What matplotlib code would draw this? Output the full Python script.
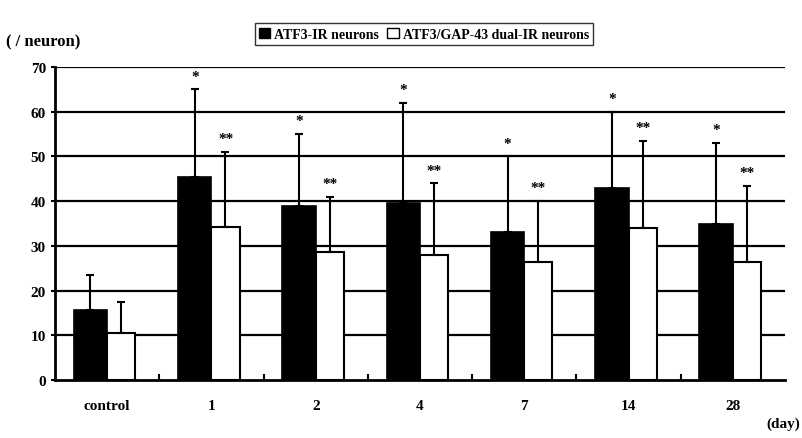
import matplotlib.pyplot as plt
import numpy as np
from matplotlib.patches import Patch

plt.rcParams['font.family'] = ['Liberation Serif', 'DejaVu Serif']
plt.rcParams['font.weight'] = 'bold'

days = ["control", "1", "2", "4", "7", "14", "28"]
atf3 = [15.7, 45.5, 39.0, 39.5, 33.0, 43.0, 35.0]
atf3_top = [23.5, 65.0, 55.0, 62.0, 50.0, 60.0, 53.0]
dual = [10.5, 34.3, 28.7, 28.0, 26.5, 34.0, 26.5]
dual_top = [17.5, 51.0, 41.0, 44.0, 40.0, 53.5, 43.5]

x = np.arange(len(days))
fig = plt.figure(figsize=(8.03, 4.39), dpi=100)
ax = fig.add_axes([0.0685, 0.132, 0.909, 0.713])

ax.set_ylim(0, 70)
ax.set_xlim(-0.5, len(days) - 0.5)
for yv in range(10, 71, 10):
    ax.axhline(yv, color='black', lw=1.6, zorder=1)

wb = 0.32
ww = 0.27
xb = x - wb / 2
xw = x + ww / 2
atf3_err = np.array(atf3_top) - np.array(atf3)
dual_err = np.array(dual_top) - np.array(dual)
ax.bar(xb, atf3, wb, color='black', edgecolor='black', lw=1.2, zorder=3,
       yerr=[np.zeros(len(x)), atf3_err], capsize=3,
       error_kw=dict(ecolor='black', elinewidth=1.5, capthick=1.5, zorder=4))
ax.bar(xw, dual, ww, color='white', edgecolor='black', lw=1.5, zorder=3,
       yerr=[np.zeros(len(x)), dual_err], capsize=3,
       error_kw=dict(ecolor='black', elinewidth=1.5, capthick=1.5, zorder=4))

for i in range(1, len(days)):
    ax.text(xb[i], atf3_top[i] + 1.5, "*", ha='center', va='bottom', fontsize=11)
    ax.text(xw[i], dual_top[i] + 1.5, "**", ha='center', va='bottom', fontsize=11)

for s in ['top', 'right']:
    ax.spines[s].set_visible(False)
ax.spines['left'].set_linewidth(2)
ax.spines['bottom'].set_linewidth(2)

ax.set_yticks(range(0, 71, 10))
ax.set_yticklabels([str(v) for v in range(0, 71, 10)], fontsize=11, fontweight='bold')
ax.tick_params(axis='y', length=3, width=1.5)
ax.set_xticks(x)
ax.set_xticklabels(days, fontsize=11, fontweight='bold')
ax.tick_params(axis='x', which='major', length=0, pad=14)
ax.set_xticks(x[:-1] + 0.5, minor=True)
ax.tick_params(axis='x', which='minor', direction='in', length=4, width=1.5)

fig.text(0.008, 0.895, "( / neuron)", fontsize=12, fontweight='bold')
fig.text(0.955, 0.025, "(day)", fontsize=11, fontweight='bold')

handles = [Patch(facecolor='black', edgecolor='black', label='ATF3-IR neurons'),
           Patch(facecolor='white', edgecolor='black', label='ATF3/GAP-43 dual-IR neurons')]
fig.legend(handles=handles, loc='center', bbox_to_anchor=(0.528, 0.92), ncol=2,
           frameon=True, fancybox=False, edgecolor='black',
           handlelength=0.8, handleheight=0.8, handletextpad=0.3, columnspacing=0.6,
           borderpad=0.3, prop={'weight': 'bold', 'size': 10})

fig.savefig("out.png", dpi=100)
